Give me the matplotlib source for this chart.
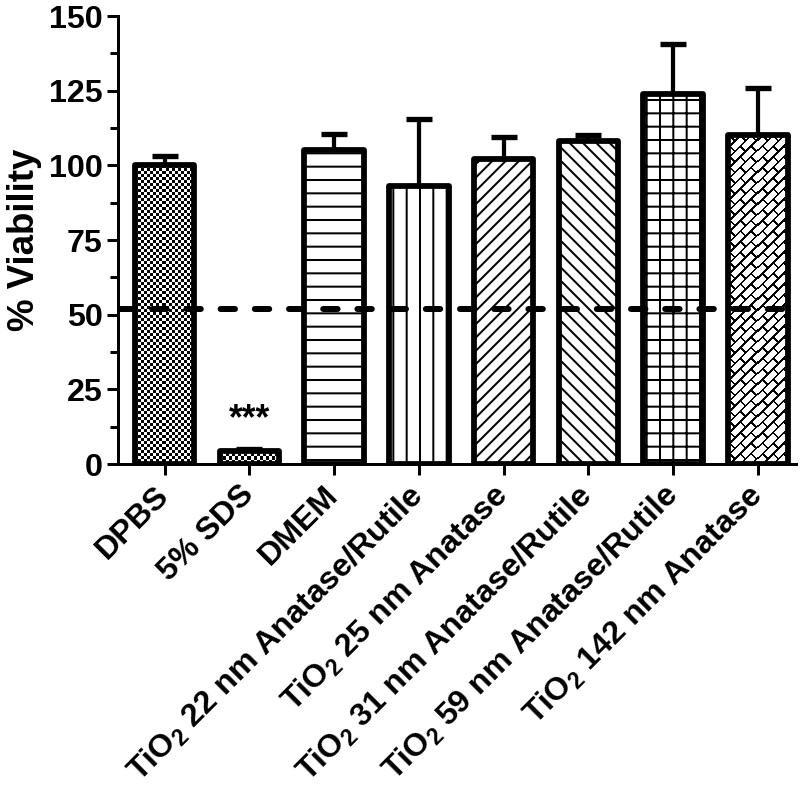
import numpy as np
import matplotlib
matplotlib.use("Agg")
import matplotlib.pyplot as plt

plt.rcParams["font.family"] = ["Liberation Sans", "DejaVu Sans"]
plt.rcParams["font.weight"] = "bold"
plt.rcParams["hatch.linewidth"] = 1.8
plt.rcParams["mathtext.fontset"] = "custom"
plt.rcParams["mathtext.rm"] = "Liberation Sans"

# data
groups = ["DPBS", "5% SDS", "DMEM",
          r"TiO$_\mathrm{2}$ 22 nm Anatase/Rutile",
          r"TiO$_\mathrm{2}$ 25 nm Anatase",
          r"TiO$_\mathrm{2}$ 31 nm Anatase/Rutile",
          r"TiO$_\mathrm{2}$ 59 nm Anatase/Rutile",
          r"TiO$_\mathrm{2}$ 142 nm Anatase"]
viability = [100.0, 4.5, 105.0, 93.0, 102.0, 108.0, 124.0, 110.0]
sem = [3.0, 0.5, 5.5, 22.5, 7.5, 2.0, 16.5, 16.0]
threshold = 52
# hatch per bar; "checker" and "brick" are drawn as textures
patterns = ["checker", "checker", "-", "|", "//", "\\\\", "+", "brick"]

fig = plt.figure(figsize=(10, 10), dpi=80)
ax = fig.add_axes([0.1475, 0.42, 0.8475, 0.56])
ax.set_xlim(-0.55, 7.45)
ax.set_ylim(0, 150)

x = np.arange(len(groups))
width = 0.7

# error bars (upper only)
ax.errorbar(x, viability, yerr=[np.zeros(len(sem)), sem], fmt="none",
            ecolor="black", elinewidth=3.8, capsize=12, capthick=4.8, zorder=1)

bars = ax.bar(x, viability, width, color="white", edgecolor="black",
              linewidth=0, zorder=2)
for b, p in zip(bars, patterns):
    if p not in ("checker", "brick"):
        b.set_hatch(p)
        b.set_linewidth(0.01)


def texture(kind, w, h):
    r, c = np.indices((h, w))
    if kind == "checker":
        return ((r // 3 + c // 3) % 2).astype(float)
    u = (c + r) / np.sqrt(2)
    v = (c - r) / np.sqrt(2)
    period, length, lw = 7.5, 15.0, 1.8
    k = np.floor(u / period)
    long_line = (u % period) < lw
    short_line = ((v + k * length / 2) % length) < lw
    return (long_line | short_line).astype(float)


fig.canvas.draw()
for b, p in zip(bars, patterns):
    if p in ("checker", "brick"):
        x0, y0 = b.get_x(), 0
        x1, y1 = x0 + b.get_width(), b.get_height()
        (px0, py0), (px1, py1) = ax.transData.transform([(x0, y0), (x1, y1)])
        arr = texture(p, max(int(round(px1 - px0)), 1), max(int(round(py1 - py0)), 1))
        im = ax.imshow(arr, cmap="gray_r", vmin=0, vmax=1, extent=(x0, x1, y0, y1),
                       interpolation="nearest", aspect="auto", zorder=2.5)
        im.set_clip_path(b)

# outlines on top
outl = ax.bar(x, viability, width, color="none", edgecolor="black",
              linewidth=5.2, zorder=3)
for b in outl:
    b.set_joinstyle("round")

ax.set_xlim(-0.55, 7.45)
ax.set_ylim(0, 150)

ax.axhline(threshold, color="black", linewidth=5.4, linestyle=(0, (2.4, 3.3)),
           dash_capstyle="round", zorder=4)

ax.text(x[1], viability[1] + sem[1] + 4, "***", ha="center", va="bottom",
        fontsize=32, fontweight="bold", zorder=5)

ax.spines["top"].set_visible(False)
ax.spines["right"].set_visible(False)
ax.spines["left"].set_linewidth(2.7)
ax.spines["bottom"].set_linewidth(2.7)
ax.spines["left"].set_bounds(0, 150)

ax.set_yticks([0, 25, 50, 75, 100, 125, 150])
ax.set_yticks(np.arange(12.5, 150, 25), minor=True)
ax.tick_params(axis="y", which="major", length=10, width=2.7, labelsize=29, pad=4)
ax.tick_params(axis="y", which="minor", length=7, width=2.7)
ax.tick_params(axis="x", length=10, width=2.7, pad=14)
ax.set_xticks(x)
ax.set_xticklabels(groups, rotation=45, ha="right", va="center",
                   rotation_mode="anchor", fontsize=29, fontweight="bold")
for lab in ax.get_yticklabels():
    lab.set_fontweight("bold")

ax.set_ylabel("% Viability", fontsize=33, fontweight="bold", labelpad=6)

fig.savefig("out.png", dpi=80)
